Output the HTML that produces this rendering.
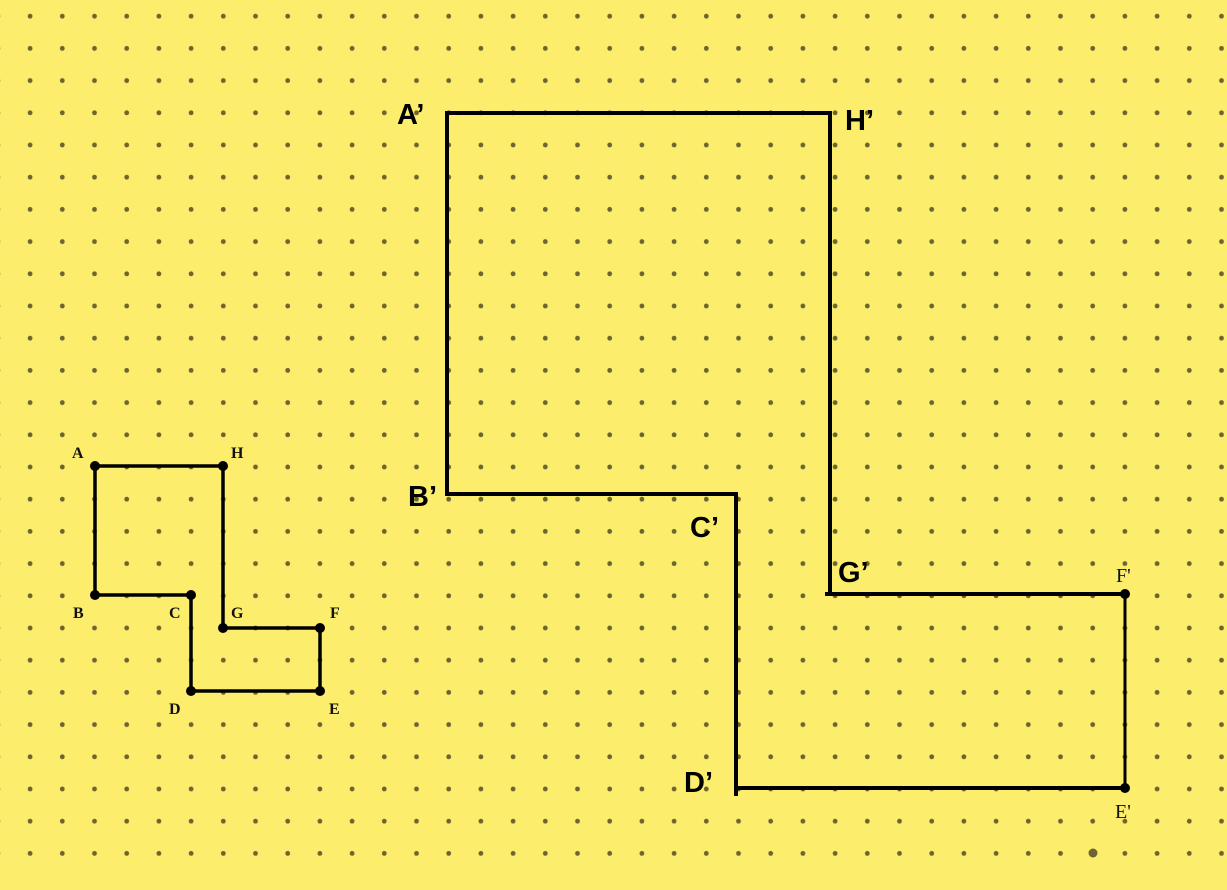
<!DOCTYPE html>
<html><head><meta charset="utf-8"><style>
html,body{margin:0;padding:0;background:#fcee6c;}
svg{display:block;}
.b{font-family:"Liberation Sans",sans-serif;font-weight:bold;font-size:29px;fill:#000;}
.s{font-family:"Liberation Serif",serif;font-size:16px;font-weight:bold;fill:#111;}
.m{font-family:"Liberation Serif",serif;font-size:20px;fill:#111;}
</style></head><body>
<svg width="1227" height="890" viewBox="0 0 1227 890" xmlns="http://www.w3.org/2000/svg">
<defs><pattern id="d" x="14" y="0" width="32.2" height="32.2" patternUnits="userSpaceOnUse">
<circle cx="16.1" cy="16.2" r="2.4" fill="#6e6432"/></pattern></defs>
<rect width="1227" height="890" fill="#fcee6c"/>
<rect x="0" y="0" width="1227" height="870" fill="url(#d)"/>
<circle cx="1093" cy="853" r="4.5" fill="#6e6432"/>
<g stroke="#000" stroke-width="3.5" fill="none">
<polyline points="95,595 95,466 223,466 223,628 320,628 320,691 191,691 191,595 95,595"/>
</g>
<g fill="#000">
<circle cx="95" cy="466" r="5"/><circle cx="223" cy="466" r="5"/><circle cx="95" cy="595" r="5"/><circle cx="191" cy="595" r="5"/>
<circle cx="223" cy="628" r="5"/><circle cx="320" cy="628" r="5"/><circle cx="191" cy="691" r="5"/><circle cx="320" cy="691" r="5"/>
</g>
<text class="s" x="72" y="458">A</text><text class="s" x="231" y="458">H</text>
<text class="s" x="73" y="618">B</text><text class="s" x="169" y="618">C</text>
<text class="s" x="231" y="618">G</text><text class="s" x="330" y="618">F</text>
<text class="s" x="169" y="714">D</text><text class="s" x="329" y="714">E</text>
<g stroke="#000" stroke-width="4" fill="none">
<polyline points="447,496 447,113 830,113 830,596"/>
<line x1="445" y1="494" x2="738" y2="494"/>
<line x1="736" y1="494" x2="736" y2="796"/>
<line x1="734" y1="788" x2="1125" y2="788"/>
<line x1="825" y1="594" x2="1125" y2="594"/>
<line x1="1125" y1="594" x2="1125" y2="788" stroke-width="3"/>
</g>
<circle cx="1125" cy="594" r="5" fill="#000"/><circle cx="1125" cy="788" r="5" fill="#000"/>
<text class="b" x="397" y="124">A’</text>
<text class="b" x="845" y="130">H’</text>
<text class="b" x="408" y="506">B’</text>
<text class="b" x="690" y="537">C’</text>
<text class="b" x="838" y="582">G’</text>
<text class="b" x="684" y="792">D’</text>
<text class="m" x="1116" y="582">F'</text>
<text class="m" x="1115" y="818">E'</text>
</svg>
</body></html>
